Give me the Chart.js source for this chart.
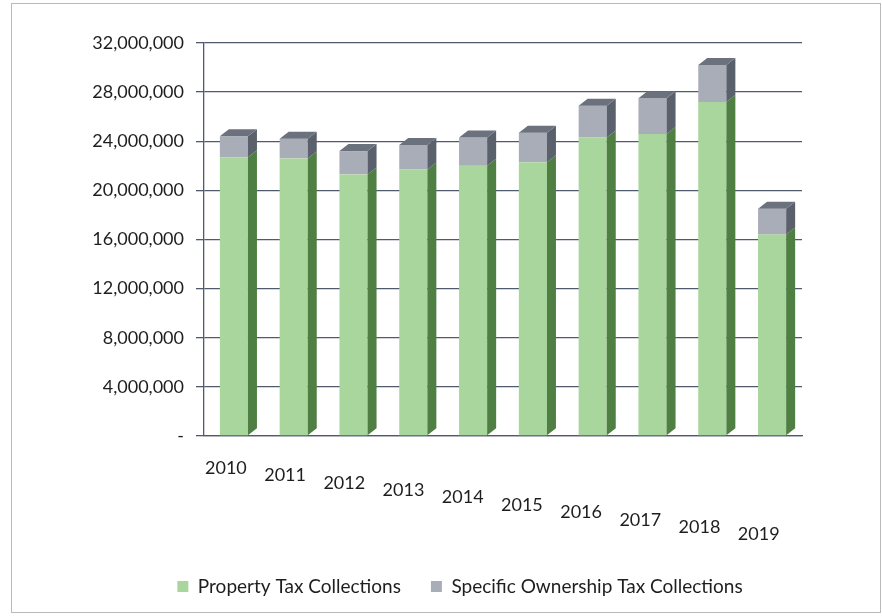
<!DOCTYPE html>
<html>
<head>
<meta charset="utf-8">
<script src="https://cdn.jsdelivr.net/npm/chart.js@4.4.0/dist/chart.umd.min.js"></script>
<style>
  html, body { margin: 0; padding: 0; background: #fff; }
  #wrap { position: relative; width: 882px; height: 616px; }
  #frame {
    position: absolute; left: 11px; top: 3px; width: 868px; height: 608px;
    border: 1px solid #b9b9b9; pointer-events: none;
  }
</style>
</head>
<body>
<div id="wrap">
  <canvas id="chart" width="882" height="616"></canvas>
  <div id="frame"></div>
</div>
<script>
const years = ["2010", "2011", "2012", "2013", "2014", "2015", "2016", "2017", "2018", "2019"];
const propertyTax = [22700000, 22600000, 21300000, 21700000, 22000000, 22300000, 24300000, 24600000, 27200000, 16400000];
const ownershipTax = [1700000, 1600000, 1900000, 2000000, 2300000, 2400000, 2600000, 2900000, 3000000, 2100000];
const yTicks = [0, 4000000, 8000000, 12000000, 16000000, 20000000, 24000000, 28000000, 32000000];

const frontColors = ["#a9d69c", "#a9adb7"];
const sideColors = ["#4f7f43", "#5a606c"];
const topColor = "#6b717d";
const gridColor = "#4f5a6e";
const FONT = "Lato, 'Open Sans', sans-serif";

// fake 3d: side + top faces of each column
const depth3d = {
  id: "depth3d",
  afterDatasetsDraw(chart) {
    const ctx = chart.ctx;
    const dx = 9, dy = 7;
    const last = chart.data.datasets.length - 1;
    chart.data.datasets.forEach((ds, d) => {
      const meta = chart.getDatasetMeta(d);
      meta.data.forEach((bar) => {
        const { x, y, base, width } = bar.getProps(["x", "y", "base", "width"], true);
        const r = x + width / 2;
        const l = x - width / 2;
        ctx.save();
        ctx.fillStyle = sideColors[d];
        ctx.beginPath();
        ctx.moveTo(r, y);
        ctx.lineTo(r + dx, y - dy);
        ctx.lineTo(r + dx, base - dy);
        ctx.lineTo(r, base);
        ctx.closePath();
        ctx.fill();
        if (d === last) {
          ctx.fillStyle = topColor;
          ctx.beginPath();
          ctx.moveTo(l, y);
          ctx.lineTo(l + dx, y - dy);
          ctx.lineTo(r + dx, y - dy);
          ctx.lineTo(r, y);
          ctx.closePath();
          ctx.fill();
        }
        ctx.restore();
      });
    });
  }
};

// year labels step down like the tilted floor of the original
const yearLabels = {
  id: "yearLabels",
  afterDraw(chart) {
    const ctx = chart.ctx;
    const xs = chart.scales.x;
    const bottom = chart.chartArea.bottom;
    ctx.save();
    ctx.font = "18px " + FONT;
    ctx.fillStyle = "#1e1e1e";
    ctx.textAlign = "center";
    ctx.textBaseline = "middle";
    years.forEach((yr, i) => {
      ctx.fillText(yr, xs.getPixelForValue(i) - 8 - i * 0.6, bottom + 32 + i * 7.4);
    });
    ctx.restore();
  }
};

// legend in the original sits a bit right of centre
const legendShift = {
  id: "legendShift",
  afterLayout(chart) {
    chart.legend.left += 41;
    chart.legend.right += 41;
  }
};

new Chart(document.getElementById("chart").getContext("2d"), {
  type: "bar",
  data: {
    labels: years,
    datasets: [
      {
        label: "Property Tax Collections",
        data: propertyTax,
        backgroundColor: frontColors[0],
        barPercentage: 0.47,
        categoryPercentage: 1
      },
      {
        label: "Specific Ownership Tax Collections",
        data: ownershipTax,
        backgroundColor: frontColors[1],
        barPercentage: 0.47,
        categoryPercentage: 1
      }
    ]
  },
  options: {
    responsive: false,
    animation: false,
    layout: { padding: { top: 43, left: 36, right: 80, bottom: 10 } },
    plugins: {
      legend: {
        position: "bottom",
        labels: {
          boxWidth: 11,
          boxHeight: 11,
          padding: 30,
          color: "#1e1e1e",
          font: { family: FONT, size: 19 }
        }
      },
      tooltip: { enabled: false }
    },
    scales: {
      x: {
        stacked: true,
        grid: { display: false, drawTicks: false },
        border: { color: gridColor, width: 1.3 },
        ticks: { display: false },
        afterFit(scale) {
          const chart = scale.chart;
          scale.height = chart.height - 436 - chart.legend.height - 10;
        }
      },
      y: {
        stacked: true,
        min: 0,
        max: 32000000,
        afterBuildTicks(scale) {
          scale.ticks = yTicks.map((v) => ({ value: v }));
        },
        afterFit(scale) {
          scale.width = 168;
        },
        grid: { color: gridColor, lineWidth: 1.3, tickLength: 8 },
        border: { color: gridColor, width: 1.3 },
        ticks: {
          color: "#1e1e1e",
          padding: 12,
          font: { family: FONT, size: 18 },
          callback: (v) => (v === 0 ? "-" : v.toLocaleString("en-US"))
        }
      }
    }
  },
  plugins: [depth3d, yearLabels, legendShift]
});
</script>
</body>
</html>
